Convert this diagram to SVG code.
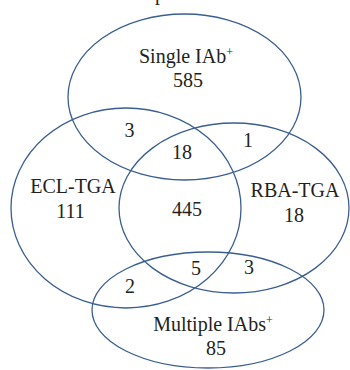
<svg xmlns="http://www.w3.org/2000/svg" width="350" height="370" viewBox="0 0 350 370">
<style>
.set{fill:none;stroke:#3a5e92;stroke-width:1.3}
text{font-family:"Liberation Serif","Times New Roman",serif;font-size:20px;fill:#231f20;text-anchor:middle}
.sup{font-size:12px}
</style>
<rect width="350" height="370" fill="#ffffff"/>
<text x="160" y="0">p</text>
<g id="single">
<ellipse class="set" cx="184.5" cy="97" rx="116.5" ry="83"/>
<text x="186" y="63">Single IAb<tspan class="sup" baseline-shift="super">+</tspan></text>
<text x="188" y="87">585</text>
</g>
<g id="ecl">
<ellipse class="set" cx="126" cy="208" rx="115" ry="100"/>
<text x="73" y="193">ECL-TGA</text>
<text x="70.5" y="218">111</text>
</g>
<g id="rba">
<ellipse class="set" cx="234" cy="208" rx="115" ry="85"/>
<text x="295" y="197">RBA-TGA</text>
<text x="294" y="222">18</text>
</g>
<g id="multiple">
<ellipse class="set" cx="208" cy="310" rx="116" ry="58"/>
<text x="213" y="331">Multiple IAbs<tspan class="sup" baseline-shift="super">+</tspan></text>
<text x="216" y="355">85</text>
</g>
<g id="intersections">
<text x="129.5" y="137">3</text>
<text x="182" y="159">18</text>
<text x="248" y="147">1</text>
<text x="187" y="216">445</text>
<text x="196" y="275">5</text>
<text x="249" y="274">3</text>
<text x="130" y="293">2</text>
</g>
</svg>
